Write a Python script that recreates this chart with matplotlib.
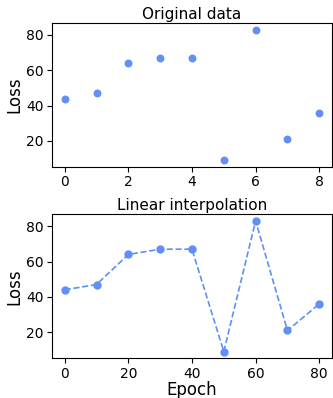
import matplotlib
matplotlib.use("Agg")
from matplotlib import pyplot as plt

epochs = [0, 1, 2, 3, 4, 5, 6, 7, 8]
epochs_scaled = [0, 10, 20, 30, 40, 50, 60, 70, 80]
loss = [44, 47, 64, 67, 67, 9, 83, 21, 36]

color = '#6090f5'

fig, (ax1, ax2) = plt.subplots(2, 1, figsize=(3.33, 3.98), dpi=100)
fig.subplots_adjust(left=0.156, right=0.997, top=0.942, bottom=0.1, hspace=0.33)

ax1.scatter(epochs, loss, color=color, s=22, zorder=3)
ax1.set_title('Original data', fontsize=11, pad=3)
ax1.set_ylabel('Loss', fontsize=12, labelpad=2)
ax1.set_xticks([0, 2, 4, 6, 8])
ax1.set_yticks([20, 40, 60, 80])

ax2.plot(epochs_scaled, loss, '--o', color=color, markersize=5, linewidth=1.2)
ax2.set_title('Linear interpolation', fontsize=11, pad=3)
ax2.set_ylabel('Loss', fontsize=12, labelpad=2)
ax2.set_xlabel('Epoch', fontsize=12, labelpad=0)
ax2.set_xticks([0, 20, 40, 60, 80])
ax2.set_yticks([20, 40, 60, 80])

for ax in (ax1, ax2):
    ax.tick_params(labelsize=10, pad=2.5)

fig.savefig('out.png', dpi=100)
